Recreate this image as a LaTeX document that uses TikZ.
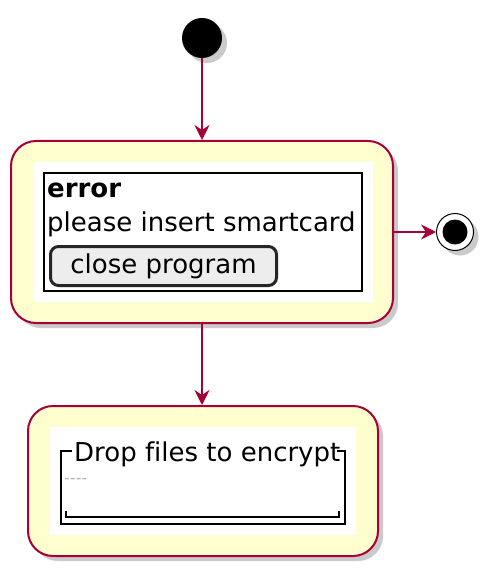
\documentclass[tikz,border=0pt]{standalone}
\usepackage{fontspec}
\setmainfont[Ligatures=NoCommon]{DejaVu Sans}
\usetikzlibrary{arrows.meta,shadows}
\definecolor{umlred}{HTML}{A80036}
\definecolor{umlfill}{HTML}{FEFECE}
\begin{document}
\begin{tikzpicture}[x=1pt,y=-1pt,
  shadowed/.style={drop shadow={shadow xshift=5pt,shadow yshift=-5pt,opacity=.35,fill=black!60}},
  act/.style={draw=umlred,fill=umlfill,line width=2pt,rounded corners=25pt,shadowed},
  flow/.style={draw=umlred,line width=1.5pt,-{Stealth[length=15pt,width=15pt,inset=5pt]}},
  txt/.style={font=\fontsize{26}{30}\selectfont,inner sep=0pt,anchor=base west}]
  \useasboundingbox (0,0) rectangle (498,577);
  % start, activities and end
  \node[circle,fill=black,minimum size=40pt,inner sep=0pt,shadowed] (start) at (202,38) {};
  \node[act,minimum width=382pt,minimum height=182pt] (err) at (202,232) {};
  \node[act,minimum width=350pt,minimum height=150pt] (drop) at (203,481) {};
  \node[circle,draw=black,fill=white,line width=1pt,minimum size=37pt,inner sep=0pt,shadowed] (stop) at (455,232) {};
  \fill (stop) circle (12.5pt);
  \draw[flow] (start) -- (err);
  \draw[flow] (err) -- (stop);
  \draw[flow] (err.south) -- (err.south |- drop.north);
  % error window
  \fill[white] (33,162) rectangle (373,302);
  \draw[line width=2pt] (44,173) rectangle (362,291);
  \node[txt] (title) at (47,197) {\bfseries error};
  \node[txt] (msg) at (47,231) {please insert smartcard};
  \node[draw=black!85,line width=3pt,fill=black!7,rounded corners=8pt,minimum width=226pt,
    minimum height=39pt,inner sep=0pt,font=\fontsize{26}{30}\selectfont] (btn) at (163.5,266) {close program};
  % drop area
  \fill[white] (50,427) rectangle (356,535);
  \draw[line width=2pt] (72,451) -| (61,524) -| (345,451) -- (337,451);
  \draw[line width=2pt] (66,511) |- (339,517) -- (339,511);
  \node[txt] (group) at (74,461) {Drop files to encrypt};
  \node[txt,font=\fontsize{16}{16}\selectfont,text=black!30] (sep) at (64,483) {-{}-{}-{}-};
\end{tikzpicture}
\end{document}
